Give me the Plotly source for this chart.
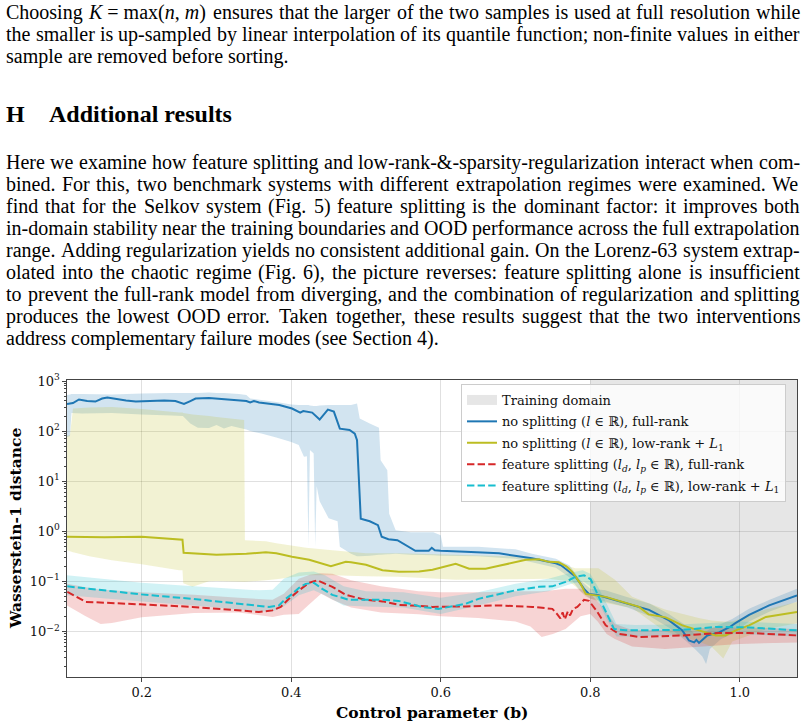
import plotly.graph_objects as go

# ---------------- data ----------------
blue_x = [0.100, 0.108, 0.116, 0.127, 0.138, 0.147, 0.154, 0.165, 0.179, 0.192, 0.210, 0.230, 0.245, 0.2565,
          0.265, 0.272, 0.290, 0.321, 0.340, 0.345, 0.350, 0.357, 0.370, 0.384, 0.401, 0.408, 0.412, 0.416,
          0.421, 0.428, 0.438, 0.449, 0.457, 0.465, 0.478, 0.485, 0.488, 0.493, 0.505, 0.516, 0.521, 0.530,
          0.542, 0.566, 0.584, 0.588, 0.592, 0.600, 0.633, 0.678, 0.722, 0.740, 0.754, 0.761, 0.7805, 0.7917,
          0.7983, 0.811, 0.843, 0.8786, 0.9054, 0.9232, 0.932, 0.939, 0.942, 0.9455, 0.9566, 0.9723, 0.9857,
          0.9947, 1.0125, 1.0393, 1.0766]
blue_y = [347, 363, 427, 398, 389, 447, 468, 437, 407, 389, 398, 407, 398, 347,
          398, 447, 457, 427, 398, 372, 398, 372, 347, 331, 282, 251, 234, 251,
          245, 234, 170, 269, 245, 112, 105, 89.1, 66.1, 1.78, 1.58, 1.32, 0.776, 0.692,
          0.661, 0.407, 0.407, 0.468, 0.417, 0.407, 0.389, 0.363, 0.288, 0.257, 0.229, 0.209, 0.123, 0.0708,
          0.0562, 0.0525, 0.0389, 0.0269, 0.0166, 0.0105, 0.00661, 0.00603, 0.00676, 0.00589, 0.00832, 0.00955, 0.0120,
          0.0148, 0.0214, 0.0331, 0.0525]
blue_band_x = [0.100, 0.104, 0.106, 0.120, 0.160, 0.200, 0.240, 0.255, 0.265, 0.275, 0.290, 0.300, 0.310, 0.320,
               0.330, 0.340, 0.345, 0.360, 0.380, 0.400, 0.410, 0.417, 0.421, 0.423, 0.425, 0.430, 0.432, 0.434,
               0.438, 0.450, 0.462, 0.465, 0.480, 0.488, 0.4916, 0.505, 0.5174, 0.5196, 0.5285, 0.531, 0.5397,
               0.560, 0.590, 0.600, 0.603, 0.650, 0.700, 0.722, 0.754, 0.772, 0.787, 0.800, 0.820, 0.850, 0.880,
               0.905, 0.925, 0.940, 0.950, 0.955, 0.960, 0.975, 0.990, 1.0125, 1.040, 1.0766]
blue_lo = [75.9, 79.4, 229, 224, 229, 214, 204, 200, 141, 117, 115, 132, 112, 126,
           117, 107, 100, 89.1, 74.1, 60.3, 52.5, 30.9, 31.6, 0.490, 41.7, 35.5, 0.490, 7.94,
           3.98, 1.82, 1.58, 0.490, 0.355, 0.316, 0.316, 0.324, 0.339, 0.339, 0.347, 0.347, 0.355,
           0.339, 0.331, 0.324, 0.324, 0.316, 0.282, 0.240, 0.186, 0.120, 0.0631, 0.0447, 0.0398, 0.0302, 0.0200,
           0.0120, 0.00708, 0.00447, 0.00316, 0.00224, 0.00447, 0.00708, 0.00891, 0.0158, 0.0251, 0.0398]
blue_hi = [525, 537, 550, 550, 537, 562, 575, 575, 575, 575, 589, 575, 575, 562,
           550, 525, 447, 417, 380, 339, 331, 331, 331, 331, 324, 316, 316, 316,
           324, 331, 331, 331, 331, 355, 178, 141, 117, 26.3, 16.6, 2.24, 1.05,
           0.955, 0.955, 0.832, 0.490, 0.490, 0.437, 0.355, 0.282, 0.209, 0.105, 0.0708, 0.0661, 0.0479, 0.0355,
           0.0224, 0.0141, 0.00891, 0.00891, 0.0100, 0.0112, 0.0141, 0.0178, 0.0282, 0.0427, 0.0708]

olive_x = [0.100, 0.150, 0.200, 0.230, 0.250, 0.2545, 0.2560, 0.300, 0.340, 0.366, 0.380, 0.401, 0.424, 0.453,
           0.473, 0.480, 0.500, 0.522, 0.544, 0.571, 0.589, 0.620, 0.638, 0.660, 0.678, 0.714, 0.7315, 0.745,
           0.758, 0.768, 0.776, 0.787, 0.794, 0.8207, 0.8653, 0.878, 0.901, 0.9232, 0.9455, 0.968, 0.981,
           0.9947, 1.0125, 1.035, 1.0766]
olive_y = [0.776, 0.759, 0.776, 0.724, 0.676, 0.676, 0.372, 0.339, 0.355, 0.380, 0.363, 0.309, 0.269, 0.200,
           0.245, 0.240, 0.214, 0.166, 0.155, 0.158, 0.170, 0.224, 0.178, 0.178, 0.204, 0.269, 0.275, 0.245,
           0.240, 0.200, 0.155, 0.0891, 0.0562, 0.0490, 0.0309, 0.0219, 0.0191, 0.0132, 0.0105, 0.00832, 0.00832,
           0.0105, 0.0132, 0.0195, 0.0245]
olive_band_x = [0.100, 0.104, 0.108, 0.130, 0.160, 0.200, 0.250, 0.2545, 0.2555, 0.268, 0.290, 0.300, 0.337, 0.338,
                0.366, 0.380, 0.420, 0.455, 0.500, 0.5435, 0.620, 0.700, 0.744, 0.771, 0.780, 0.794, 0.811, 0.833,
                0.856, 0.900, 0.945, 0.962, 0.978, 0.990, 1.035, 1.0766]
olive_lo = [0.417, 0.398, 0.380, 0.316, 0.263, 0.219, 0.166, 0.166, 0.0912, 0.0776, 0.100, 0.102, 0.0977, 0.0977,
            0.105, 0.110, 0.132, 0.132, 0.126, 0.123, 0.107, 0.110, 0.112, 0.100, 0.0794, 0.0490, 0.0398, 0.0339,
            0.0295, 0.0100, 0.00631, 0.00501, 0.00288, 0.00631, 0.0110, 0.0145]
olive_hi = [79.4, 83.2, 282, 295, 302, 275, 234, 234, 229, 214, 200, 191, 166, 0.661,
            0.631, 0.575, 0.468, 0.417, 0.363, 0.363, 0.339, 0.316, 0.251, 0.200, 0.182, 0.182, 0.182, 0.107,
            0.0490, 0.0275, 0.0186, 0.0166, 0.0158, 0.0158, 0.0275, 0.0389]

red_x = [0.1004, 0.1116, 0.125, 0.1985, 0.2676, 0.3568, 0.3747, 0.3859, 0.397, 0.4104, 0.4237, 0.4348, 0.455,
         0.4729, 0.4996, 0.522, 0.544, 0.5705, 0.5887, 0.6333, 0.678, 0.7225, 0.7493, 0.756, 0.760, 0.763, 0.766,
         0.770, 0.773, 0.777, 0.7827, 0.7917, 0.7983, 0.8095, 0.8207, 0.8385, 0.8653, 0.9232, 0.972, 1.0125, 1.0766]
red_y = [0.0617, 0.0501, 0.0389, 0.0347, 0.0309, 0.0245, 0.0263, 0.0309, 0.0447, 0.0661, 0.0933, 0.105, 0.0776,
         0.0537, 0.0427, 0.0398, 0.0339, 0.0324, 0.0309, 0.0316, 0.0331, 0.0309, 0.0282, 0.0219, 0.0182, 0.0240, 0.0174,
         0.0251, 0.0209, 0.0282, 0.0309, 0.0427, 0.0407, 0.0245, 0.0132, 0.00891, 0.00776, 0.00832, 0.00933, 0.00933, 0.00832]
red_band_x = [0.100, 0.125, 0.145, 0.160, 0.200, 0.270, 0.330, 0.375, 0.390, 0.410, 0.425, 0.440, 0.455, 0.480,
              0.520, 0.5705, 0.600, 0.650, 0.700, 0.720, 0.735, 0.750, 0.767, 0.787, 0.800, 0.810, 0.822, 0.833,
              0.856, 0.900, 0.950, 1.000, 1.0766]
red_lo = [0.0331, 0.0200, 0.0141, 0.0148, 0.0191, 0.0234, 0.0240, 0.0195, 0.0214, 0.0224, 0.0355, 0.0562, 0.0427, 0.0302,
          0.0240, 0.0219, 0.0200, 0.0186, 0.0158, 0.0126, 0.00776, 0.00891, 0.0112, 0.0200, 0.0224, 0.0158, 0.00891, 0.00708,
          0.00501, 0.00447, 0.00501, 0.00562, 0.00603]
red_hi = [0.0891, 0.0759, 0.0676, 0.0661, 0.0603, 0.0537, 0.0468, 0.0427, 0.0562, 0.112, 0.135, 0.145, 0.141, 0.105,
          0.0794, 0.0631, 0.0603, 0.0603, 0.0631, 0.0631, 0.0631, 0.0661, 0.0708, 0.0708, 0.0562, 0.0398, 0.0240, 0.0141,
          0.0107, 0.0107, 0.0117, 0.0120, 0.0112]

cyan_x = [0.1004, 0.1985, 0.2676, 0.3702, 0.3836, 0.3925, 0.4014, 0.4104, 0.4193, 0.4304, 0.4415, 0.455, 0.4773,
          0.4996, 0.522, 0.5435, 0.5747, 0.597, 0.6327, 0.6505, 0.6996, 0.7314, 0.7493, 0.767, 0.7805, 0.7917,
          0.8006, 0.8095, 0.8207, 0.8318, 0.8474, 0.9232, 0.9677, 1.0125, 1.0766]
cyan_y = [0.0794, 0.0550, 0.0447, 0.0309, 0.0331, 0.0447, 0.0562, 0.0741, 0.0891, 0.0933, 0.0708, 0.0537, 0.0427,
          0.0427, 0.0427, 0.0407, 0.0309, 0.0282, 0.0355, 0.0447, 0.0661, 0.0776, 0.0794, 0.0977, 0.123, 0.132,
          0.110, 0.0562, 0.0245, 0.0112, 0.0105, 0.0107, 0.0123, 0.0120, 0.0105]
cyan_band_x = [0.100, 0.200, 0.270, 0.357, 0.375, 0.390, 0.410, 0.430, 0.445, 0.470, 0.500, 0.550, 0.600, 0.650,
               0.700, 0.744, 0.775, 0.790, 0.800, 0.810, 0.822, 0.835, 0.860, 0.920, 1.000, 1.0766]
cyan_lo = [0.0525, 0.0398, 0.0331, 0.0251, 0.0251, 0.0316, 0.0525, 0.0661, 0.0525, 0.0331, 0.0316, 0.0302, 0.0224, 0.0331,
           0.0501, 0.0631, 0.0891, 0.100, 0.0794, 0.0417, 0.0178, 0.00794, 0.00794, 0.00832, 0.00891, 0.00794]
cyan_hi = [0.132, 0.0933, 0.0794, 0.0661, 0.0676, 0.112, 0.151, 0.158, 0.132, 0.0794, 0.0631, 0.0603, 0.0468, 0.0603,
           0.0891, 0.112, 0.151, 0.166, 0.141, 0.0794, 0.0355, 0.0141, 0.0135, 0.0138, 0.0158, 0.0141]

training_domain = [0.8, 1.2]
series_names = [
    "no splitting (<i>l</i> ∈ ℝ), full-rank",
    "no splitting (<i>l</i> ∈ ℝ), low-rank + <i>L</i><sub>1</sub>",
    "feature splitting (<i>l<sub>d</sub></i>, <i>l<sub>p</sub></i> ∈ ℝ), full-rank",
    "feature splitting (<i>l<sub>d</sub></i>, <i>l<sub>p</sub></i> ∈ ℝ), low-rank + <i>L</i><sub>1</sub>",
]
x_tick_vals = [0.2, 0.4, 0.6, 0.8, 1.0]
x_tick_text = ["0.2", "0.4", "0.6", "0.8", "1.0"]
y_tick_vals = [1e-2, 1e-1, 1e0, 1e1, 1e2, 1e3]
y_tick_text = ["10<sup>−2</sup>", "10<sup>−1</sup>", "10<sup>0</sup>", "10<sup>1</sup>", "10<sup>2</sup>", "10<sup>3</sup>"]

# ---------------- page text ----------------
MATH = "§"
page_lines_top = [
    ("Choosing § ensures that the larger of the two samples is used at full resolution while", True),
    ("the smaller is up-sampled by linear interpolation of its quantile function; non-finite values in either", True),
    ("sample are removed before sorting.", False),
]
paragraph_lines = [
    ("Here we examine how feature splitting and low-rank-&-sparsity-regularization interact when com-", True),
    ("bined. For this, two benchmark systems with different extrapolation regimes were examined. We", True),
    ("find that for the Selkov system (Fig. 5) feature splitting is the dominant factor: it improves both", True),
    ("in-domain stability near the training boundaries and OOD performance across the full extrapolation", True),
    ("range. Adding regularization yields no consistent additional gain. On the Lorenz-63 system extrap-", True),
    ("olated into the chaotic regime (Fig. 6), the picture reverses: feature splitting alone is insufficient", True),
    ("to prevent the full-rank model from diverging, and the combination of regularization and splitting", True),
    ("produces the lowest OOD error. Taken together, these results suggest that the two interventions", True),
    ("address complementary failure modes (see Section 4).", False),
]
heading_num = "H"
heading_text = "Additional results"

# ---------------- figure ----------------
colors = ["#1f77b4", "#bcbd22", "#d62728", "#17becf"]
fills = ["rgba(31,119,180,0.2)", "rgba(188,189,34,0.2)", "rgba(214,39,40,0.2)", "rgba(23,190,207,0.2)"]
SERIF_TXT = "Liberation Serif, Times New Roman, Times, serif"
SERIF_FIG = "DejaVu Serif, serif"

L, R, T, B = 67, 10, 380, 50
W, H = 807 - L - R, 727 - T - B

fig = go.Figure()
# shaded training domain (region) + its legend patch
fig.add_trace(go.Scatter(
    x=[training_domain[0], training_domain[1], training_domain[1], training_domain[0]],
    y=[1e-4, 1e-4, 1e4, 1e4], fill="toself", mode="none",
    fillcolor="rgba(128,128,128,0.2)", showlegend=False, hoverinfo="skip"))
fig.add_trace(go.Scatter(x=[None], y=[None], mode="lines", name="Training domain",
                         line=dict(color="rgba(128,128,128,0.2)", width=12), legendgroup="g0"))

bands = [(blue_band_x, blue_lo, blue_hi), (olive_band_x, olive_lo, olive_hi),
         (red_band_x, red_lo, red_hi), (cyan_band_x, cyan_lo, cyan_hi)]
for (bx, lo, hi), fc in zip(bands, fills):
    fig.add_trace(go.Scatter(x=list(bx) + list(bx)[::-1], y=list(hi) + list(lo)[::-1],
                             fill="toself", mode="none", fillcolor=fc, showlegend=False, hoverinfo="skip"))

lines = [(blue_x, blue_y, "solid"), (olive_x, olive_y, "solid"),
         (red_x, red_y, "7.4px,3.2px"), (cyan_x, cyan_y, "7.4px,3.2px")]
for k, ((lx, ly, dash), c, nm) in enumerate(zip(lines, colors, series_names)):
    fig.add_trace(go.Scatter(x=lx, y=ly, mode="lines", line=dict(color=c, width=2, dash=dash), name=nm,
                             legendgroup="g%d" % (k + 1)))

axis_common = dict(showline=True, mirror=True, linecolor="#444", linewidth=1.3, ticks="outside",
                   ticklen=3.5, tickcolor="#444", showgrid=True, gridcolor="rgba(0,0,0,0.12)",
                   gridwidth=1, zeroline=False, tickfont=dict(family=SERIF_FIG, size=13, color="#111"))
fig.update_xaxes(range=[0.1, 1.0766], tickmode="array", tickvals=x_tick_vals, ticktext=x_tick_text, **axis_common)
fig.update_yaxes(type="log", range=[-2.91, 3.02], tickmode="array", tickvals=y_tick_vals, ticktext=y_tick_text,
                 minor=dict(ticks="outside", ticklen=2, tickcolor="#444", showgrid=False, dtick="D1"),
                 **axis_common)

def px2paper(px, py):
    return (px - L) / W, (T + H - py) / H

annotations = []

# Times metrics (per 1000 em)
TIMES = {' ': 250, '!': 333, '"': 408, '&': 778, "'": 333, '(': 333, ')': 333, '+': 564, ',': 250, '-': 333,
         '.': 250, '/': 278, ':': 278, ';': 278, '=': 564, '?': 444,
         'A': 722, 'B': 667, 'C': 667, 'D': 722, 'E': 611, 'F': 556, 'G': 722, 'H': 722, 'I': 333, 'J': 389,
         'K': 722, 'L': 611, 'M': 889, 'N': 722, 'O': 722, 'P': 556, 'Q': 722, 'R': 667, 'S': 556, 'T': 611,
         'U': 722, 'V': 722, 'W': 944, 'X': 722, 'Y': 722, 'Z': 611,
         'a': 444, 'b': 500, 'c': 444, 'd': 500, 'e': 444, 'f': 333, 'g': 500, 'h': 500, 'i': 278, 'j': 278,
         'k': 500, 'l': 278, 'm': 778, 'n': 500, 'o': 500, 'p': 500, 'q': 500, 'r': 333, 's': 389, 't': 278,
         'u': 500, 'v': 500, 'w': 722, 'x': 500, 'y': 500, 'z': 444}
FS = 20
TXT_L, TXT_R = 6, 800
MATH_HTML = "<i>K</i> = max(<i>n</i>, <i>m</i>)"
MATH_PLAIN = "K = max(n, m)"

def tw(s):
    return sum(TIMES.get(ch, 500) for ch in s) * FS / 1000.0

def add_word(html, px, baseline, size=FS, bold=False):
    cy = baseline - 0.3375 * size
    x, y = px2paper(px, cy)
    annotations.append(dict(text=("<b>%s</b>" % html) if bold else html, x=x, y=y, xref="paper", yref="paper",
                            xanchor="left", yanchor="middle", showarrow=False, borderpad=0, borderwidth=0,
                            font=dict(family=SERIF_TXT, size=size, color="#000")))

def add_line(text, baseline, justify):
    toks = text.split(" ")
    plains = [MATH_PLAIN if t == MATH else t for t in toks]
    htmls = [MATH_HTML if t == MATH else t.replace("&", "&amp;") for t in toks]
    widths = [tw(p) for p in plains]
    if justify and len(toks) > 1:
        gap = (TXT_R - TXT_L - sum(widths)) / (len(toks) - 1)
    else:
        gap = tw(" ")
    x = TXT_L
    for h, w in zip(htmls, widths):
        add_word(h, x, baseline)
        x += w + gap

for i, (t, j) in enumerate(page_lines_top):
    add_line(t, 19 + 22 * i, j)
for i, (t, j) in enumerate(paragraph_lines):
    add_line(t, 169 + 22 * i, j)
add_word(heading_num, 6, 122, size=24, bold=True)
add_word(heading_text, 49, 122, size=24, bold=True)

# axis titles
xt = px2paper(432, 712)
annotations.append(dict(text="<b>Control parameter (b)</b>", x=xt[0], y=xt[1], xref="paper", yref="paper",
                        xanchor="center", yanchor="middle", showarrow=False,
                        font=dict(family=SERIF_FIG, size=15.5, color="#000")))
yt = px2paper(15, 529)
annotations.append(dict(text="<b>Wasserstein-1 distance</b>", x=yt[0], y=yt[1], xref="paper", yref="paper",
                        xanchor="center", yanchor="middle", showarrow=False, textangle=-90,
                        font=dict(family=SERIF_FIG, size=15.5, color="#000")))

lg = px2paper(461, 384)
fig.update_layout(
    width=807, height=727, margin=dict(l=L, r=R, t=T, b=B, autoexpand=False),
    paper_bgcolor="white", plot_bgcolor="white",
    font=dict(family=SERIF_FIG, size=13, color="#111"),
    showlegend=True,
    legend=dict(x=lg[0], y=lg[1], xanchor="left", yanchor="top", bgcolor="rgba(255,255,255,0.8)",
                bordercolor="#cccccc", borderwidth=1, font=dict(family=SERIF_FIG, size=13, color="#111"),
                traceorder="grouped", tracegroupgap=1.5),
    annotations=annotations,
)

fig.write_html("out.html")
